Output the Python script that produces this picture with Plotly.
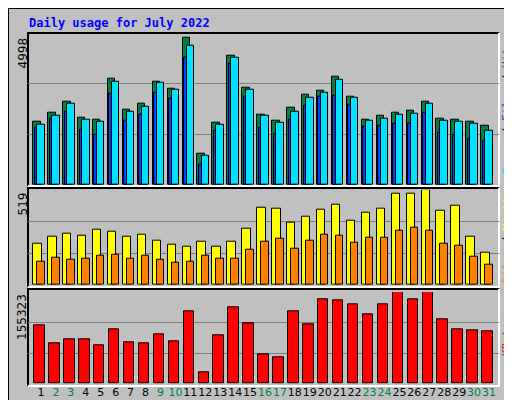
import plotly.graph_objects as go

W, H = 512, 400

days = list(range(1, 32))
weekend = [2, 3, 9, 10, 16, 17, 23, 24, 30, 31]

hits = [2083, 2379, 2740, 2214, 2148, 3474, 2477, 2674, 3398, 3167, 4845, 1030, 2050, 4253, 3200, 2313,
        2115, 2521, 2970, 3102, 3562, 2904, 2148, 2280, 2379, 2444, 2740, 2181, 2148, 2083, 1951]
files = [1984, 2280, 2674, 2148, 2083, 3398, 2411, 2576, 3365, 3135, 4581, 965, 1984, 4187, 3135, 2280,
         2050, 2411, 2872, 3036, 3463, 2872, 2115, 2181, 2313, 2345, 2674, 2115, 2083, 2017, 1786]
pages = [1896, 2181, 2422, 1830, 1666, 2981, 2115, 2291, 3036, 2817, 4187, 680, 1797, 3968, 2882, 1896,
         1699, 2159, 2587, 2882, 2915, 2619, 1929, 1962, 2028, 2028, 2389, 1732, 1666, 1534, 1469]
visits = [226, 264, 280, 270, 302, 291, 264, 275, 242, 220, 209, 237, 209, 237, 308, 422,
          417, 341, 373, 412, 439, 351, 395, 417, 499, 499, 519, 406, 433, 264, 177]
sites = [127, 149, 138, 144, 160, 166, 144, 160, 138, 122, 127, 160, 144, 144, 193, 237,
         253, 198, 242, 275, 270, 231, 259, 259, 297, 313, 297, 226, 215, 155, 111]
kbytes = [99200, 68600, 75400, 75400, 65200, 92400, 70300, 68600, 83900, 72000, 123000, 19300, 82200,
          129800, 102600, 49900, 44800, 123000, 100900, 143400, 141700, 134900, 117900, 134900,
          155323, 143400, 155000, 109400, 92400, 90700, 89000]

HITS_MAX, VISITS_MAX, KB_MAX = 4998, 519, 155323


def py(y):
    return 1 - y / H


def px(x):
    return x / W


fig = go.Figure()


def bar(y, color, offset, width, axis):
    fig.add_trace(go.Bar(x=days, y=y, offset=offset, width=width, marker_color=color,
                         marker_line=dict(color='black', width=1), xaxis='x' + axis,
                         yaxis='y' + axis, showlegend=False, hoverinfo='skip'))


bar(hits, '#008040', -0.52, 0.5, '')
bar(pages, '#0040ff', -0.42, 0.5, '')
bar(files, '#00e0ff', -0.25, 0.5, '')
bar(visits, '#ffff00', -0.52, 0.56, '2')
bar(sites, '#ff8000', -0.25, 0.5, '2')
bar(kbytes, '#ff0000', -0.45, 0.7, '3')

xdom = [px(20), px(491)]
xr = [0.13, 31.67]
ticktext = [f'<span style="color:{"#008040" if d in weekend else "black"}">{d}</span>' for d in days]


def xax(anchor, **kw):
    d = dict(domain=xdom, range=xr, anchor=anchor, showgrid=False, zeroline=False,
             automargin=False, showticklabels=False)
    d.update(kw)
    return d


def yax(dom, mx):
    return dict(domain=dom, range=[0, mx], tickvals=[mx / 3, 2 * mx / 3], ticktext=['', ''],
                showgrid=True, gridcolor='#808080', gridwidth=1, zeroline=False, showline=False,
                ticks='', automargin=False)


fig.update_layout(
    width=W, height=H, margin=dict(l=0, r=0, t=0, b=0, autoexpand=False),
    paper_bgcolor='#c0c0c0', plot_bgcolor='rgba(0,0,0,0)',
    barmode='overlay', bargap=0,
    font=dict(family='DejaVu Sans Mono', size=11, color='black'),
    xaxis=xax('y'),
    xaxis2=xax('y2'),
    xaxis3=xax('y3', showticklabels=True, tickvals=days, ticktext=ticktext, ticks='', tickangle=0,
               ticklen=0, tickfont=dict(family='DejaVu Sans', size=11)),
    yaxis=yax([py(177), py(24.7)], HITS_MAX),
    yaxis2=yax([py(276.7), py(181.7)], VISITS_MAX),
    yaxis3=yax([py(375.7), py(284.3)], KB_MAX),
)

shapes = []
# outer frame and bevel
shapes.append(dict(type='rect', xref='paper', yref='paper', x0=px(503), x1=1, y0=0, y1=1,
                   fillcolor='#808080', line_width=0, layer='below'))
shapes.append(dict(type='rect', xref='paper', yref='paper', x0=0, x1=1, y0=0, y1=py(392),
                   fillcolor='#808080', line_width=0, layer='below'))
shapes.append(dict(type='rect', xref='paper', yref='paper', x0=px(0.5), x1=px(511.5), y0=py(399.5),
                   y1=py(0.5), line=dict(color='black', width=1)))
# panel frames: black top/left, white bottom/right
for top, bot in [(25, 178), (180, 279), (281, 378)]:
    shapes.append(dict(type='path', xref='paper', yref='paper', layer='below',
                       path=f'M {px(20)},{py(bot)} L {px(20)},{py(top)} L {px(491)},{py(top)}',
                       line=dict(color='black', width=2)))
    shapes.append(dict(type='path', xref='paper', yref='paper', layer='below',
                       path=f'M {px(491)},{py(top)} L {px(491)},{py(bot)} L {px(20)},{py(bot)}',
                       line=dict(color='white', width=2)))
fig.update_layout(shapes=shapes)

ann = [dict(text='<b>Daily usage for July 2022</b>', x=px(19), y=py(15), xanchor='left', yanchor='middle',
            font=dict(color='#0000ff', size=12, family='DejaVu Sans Mono'))]
for label, ytop in [(str(HITS_MAX), 28), (str(VISITS_MAX), 183), (str(KB_MAX), 284)]:
    ann.append(dict(text=label, x=px(14), y=py(ytop), textangle=-90, xanchor='center', yanchor='top',
                    font=dict(size=12, family='DejaVu Sans')))
right = [('<span style="color:#00e0ff">Pages</span> / <span style="color:#0040ff">Files</span>'
          ' / <span style="color:#008040">Hits</span>', 100),
         ('<span style="color:#ff8000">Sites</span> / <span style="color:#ffff00">Visits</span>', 229),
         ('<span style="color:#ff0000">KBytes</span>', 328)]
for text, yc in right:
    ann.append(dict(text=text, x=px(498), y=py(yc), textangle=-90, xanchor='center', yanchor='middle',
                    font=dict(size=11, family='DejaVu Sans Mono', color='black')))
for a in ann:
    a.update(xref='paper', yref='paper', showarrow=False)
fig.update_layout(annotations=ann)

fig.write_html('out.html')
